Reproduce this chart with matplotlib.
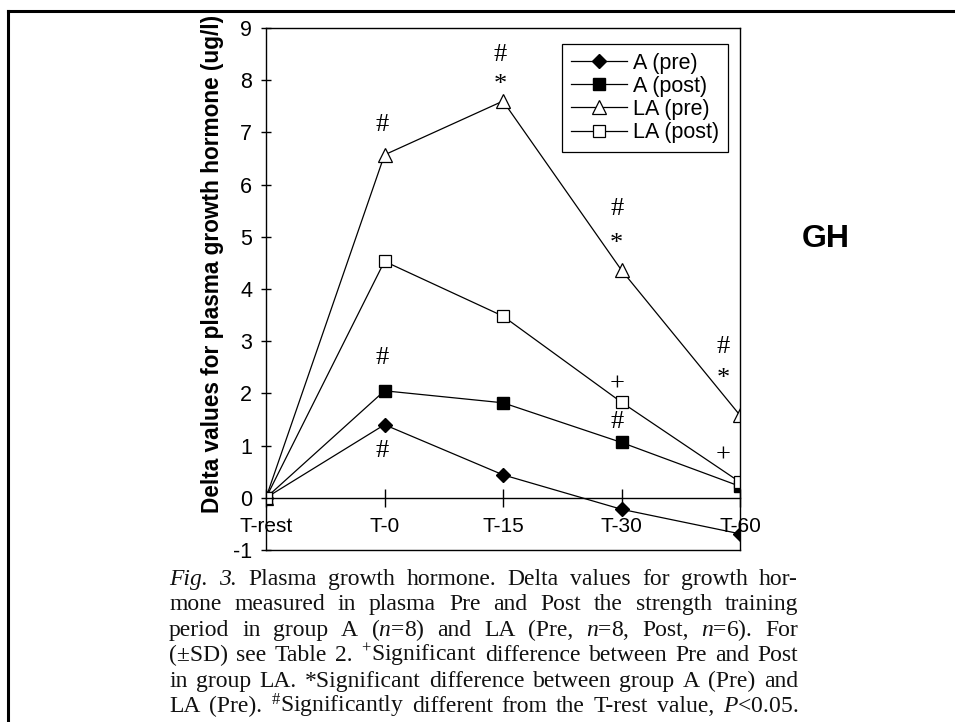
import matplotlib.pyplot as plt
from matplotlib.lines import Line2D

plt.rcParams['font.family'] = 'Liberation Sans'
plt.rcParams['axes.unicode_minus'] = False
plt.rcParams['mathtext.fontset'] = 'custom'
plt.rcParams['mathtext.rm'] = 'Liberation Serif'
plt.rcParams['mathtext.it'] = 'Liberation Serif:italic'

# Data
timepoints = ["T-rest", "T-0", "T-15", "T-30", "T-60"]
a_pre = [0, 1.40, 0.44, -0.22, -0.69]
a_post = [0, 2.05, 1.82, 1.06, 0.22]
la_pre = [0, 6.57, 7.60, 4.36, 1.58]
la_post = [0, 4.53, 3.48, 1.83, 0.30]
yticks = list(range(-1, 10))

# significance marks: x position (category index), y baseline, symbol
mark_x = [0.98, 0.98, 0.98, 1.975, 1.975, 2.96, 2.96, 2.96, 2.96, 3.86, 3.86, 3.86]
mark_y = [7.02, 2.56, 0.79, 8.36, 7.80, 5.41, 4.75, 2.06, 1.33, 2.77, 2.16, 0.70]
mark_txt = ["#", "#", "#", "#", "*", "#", "*", "+", "#", "#", "*", "+"]

caption_lines = [
    "Fig. 3. Plasma growth hormone. Delta values for growth hor-",
    "mone measured in plasma Pre and Post the strength training",
    r"period in group A ($\mathit{n}$=8) and LA (Pre, $\mathit{n}$=8, Post, $\mathit{n}$=6). For",
    r"(±SD) see Table 2. $^{+}$Significant difference between Pre and Post",
    "in group LA. *Significant difference between group A (Pre) and",
    r"LA (Pre). $^{\#}$Significantly different from the T-rest value, $\mathit{P}$<0.05.",
]

W, H = 955, 722
fig = plt.figure(figsize=(W / 100, H / 100), dpi=100)
ax = fig.add_axes([266 / W, 1 - 550 / H, (740 - 266) / W, 522 / H])

x = list(range(len(timepoints)))
ax.plot(x, a_pre, '-D', color='black', mfc='black', ms=6.8, lw=0.9, label='A (pre)')
ax.plot(x, a_post, '-s', color='black', mfc='black', ms=9, lw=0.9, label='A (post)')
ax.plot(x, la_pre, '-^', color='black', mfc='white', ms=9.4, mew=0.9, lw=0.9, label='LA (pre)')
ax.plot(x, la_post, '-s', color='black', mfc='white', ms=8.5, mew=0.9, lw=0.9, label='LA (post)')

for mx, my, s in zip(mark_x, mark_y, mark_txt):
    ax.text(mx, my, s, ha='center', va='baseline', fontsize=19, family='Liberation Serif')

ax.set_xlim(0, 4)
ax.set_ylim(-1, 9)
ax.spines['bottom'].set_position(('data', 0))
ax.axhline(-1, color='black', lw=1.0, clip_on=False)
for sp in ax.spines.values():
    sp.set_linewidth(1.0)

ax.set_xticks(x, timepoints)
ax.set_yticks(yticks)
ax.tick_params(axis='x', direction='inout', length=13, pad=7, labelsize=15, width=1.0)
ax.tick_params(axis='y', direction='inout', length=7.2, pad=6.4, labelsize=15.5, width=1.0)

ax.set_ylabel("Delta values for plasma growth hormone (ug/l)", fontsize=16.3,
              fontweight='bold', va='center')
ax.yaxis.set_label_coords(212 / W, 1 - 264 / H, transform=fig.transFigure)

leg = ax.legend(loc='upper left', bbox_to_anchor=(562 / W, 1 - 44 / H),
                bbox_transform=fig.transFigure, borderaxespad=0, fancybox=False,
                edgecolor='black', framealpha=1, fontsize=15.5, handlelength=2.6,
                handletextpad=0.3, labelspacing=0.1, borderpad=0.4)
leg.get_frame().set_linewidth(0.9)

fig.text(826 / W, 1 - 239 / H, "GH", fontsize=23, fontweight='bold',
         ha='center', va='center')

# outer border (top and left only)
fig.add_artist(Line2D([7.5 / W, 7.5 / W], [0, 1 - 11 / H], transform=fig.transFigure,
                      color='black', lw=2.2, solid_capstyle='projecting'))
fig.add_artist(Line2D([7.5 / W, 1], [1 - 11 / H, 1 - 11 / H], transform=fig.transFigure,
                      color='black', lw=2.2, solid_capstyle='projecting'))

# justified caption
renderer = fig.canvas.get_renderer()
x_left, x_right = 169, 798
for i, line in enumerate(caption_lines):
    words = line.split(" ")
    texts = []
    for w in words:
        style = 'italic' if i == 0 and w in ("Fig.", "3.") else 'normal'
        t = fig.text(0, 0, w, fontsize=17, family='Liberation Serif', style=style,
                     ha='left', va='baseline', color='#111111')
        texts.append(t)
    widths = [t.get_window_extent(renderer).width for t in texts]
    gap = (x_right - x_left - sum(widths)) / (len(words) - 1)
    xpos = x_left
    ybase = 1 - (585 + 25.4 * i) / H
    for t, wd in zip(texts, widths):
        t.set_position((xpos / W, ybase))
        xpos += wd + gap

fig.savefig("out.png", dpi=100)
